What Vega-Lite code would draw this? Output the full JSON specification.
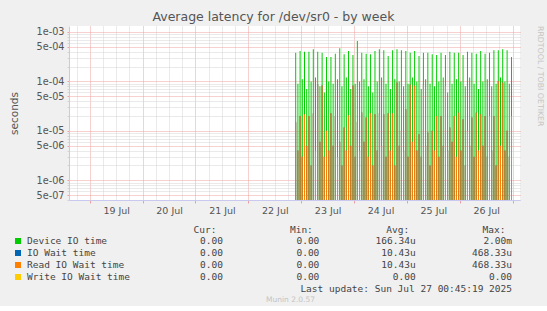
{
  "$schema": "https://vega.github.io/schema/vega-lite/v6.json",
  "background": "#f0f0f0",
  "padding": {"left": 9, "top": 10, "right": 4, "bottom": 3},
  "config": {"view": {"stroke": null}, "font": "DejaVu Sans"},
  "title": {"text": "Average latency for /dev/sr0 - by week", "font": "DejaVu Sans", "fontSize": 12.5, "fontWeight": "normal", "color": "#555555", "anchor": "middle", "offset": 3, "dx": -3},
  "spacing": 9,
  "vconcat": [
    {
      "width": 451,
      "height": 174,
      "view": {"fill": "white", "stroke": null},
      "title": {"text": "RRDTOOL / TOBI OETIKER", "orient": "right", "anchor": "start", "font": "DejaVu Sans", "fontSize": 7.8, "fontWeight": "normal", "color": "#c4c4c4", "offset": 16},
      "data": {"values": [
        {"t":"2025-07-22T21:30Z","dev":3.82e-4,"io":1.5e-5,"rd":1.5e-5},
        {"t":"2025-07-22T22:30Z","dev":9e-5,"io":4e-6,"rd":4e-6},
        {"t":"2025-07-22T23:30Z","dev":4.13e-4,"io":2.0e-5,"rd":2.0e-5},
        {"t":"2025-07-23T00:30Z","dev":1.1e-4,"io":3e-6,"rd":3e-6},
        {"t":"2025-07-23T01:30Z","dev":3.99e-4,"io":2.16e-5,"rd":2.16e-5},
        {"t":"2025-07-23T02:30Z","dev":7e-5,"io":5e-6,"rd":5e-6},
        {"t":"2025-07-23T03:30Z","dev":3.99e-4,"io":2.0e-5,"rd":2.0e-5},
        {"t":"2025-07-23T04:30Z","dev":1e-4,"io":2e-6,"rd":2e-6},
        {"t":"2025-07-23T05:30Z","dev":4.45e-4,"io":2.24e-5,"rd":2.24e-5},
        {"t":"2025-07-23T06:30Z","dev":1.2e-4,"io":4e-6,"rd":4e-6},
        {"t":"2025-07-23T07:30Z","dev":3.99e-4,"io":8.7e-5,"rd":8.7e-5},
        {"t":"2025-07-23T08:30Z","dev":8e-5,"io":6e-6,"rd":6e-6},
        {"t":"2025-07-23T09:30Z","dev":3.82e-4,"io":8.3e-5,"rd":8.3e-5},
        {"t":"2025-07-23T10:30Z","dev":6e-5,"io":3e-6,"rd":3e-6},
        {"t":"2025-07-23T11:30Z","dev":3.12e-4,"io":1.0e-5,"rd":1.0e-5},
        {"t":"2025-07-23T12:30Z","dev":1e-4,"io":4e-6,"rd":4e-6},
        {"t":"2025-07-23T13:30Z","dev":3.12e-4,"io":2.27e-5,"rd":2.27e-5},
        {"t":"2025-07-23T14:30Z","dev":9e-5,"io":5e-6,"rd":5e-6},
        {"t":"2025-07-23T15:30Z","dev":3.64e-4,"io":2.0e-5,"rd":2.0e-5},
        {"t":"2025-07-23T16:30Z","dev":1.1e-4,"io":3e-6,"rd":3e-6},
        {"t":"2025-07-23T17:30Z","dev":4.67e-4,"io":6e-6,"rd":6e-6},
        {"t":"2025-07-23T18:30Z","dev":8e-5,"io":2e-6,"rd":2e-6},
        {"t":"2025-07-23T19:30Z","dev":3.53e-4,"io":1.17e-5,"rd":1.17e-5},
        {"t":"2025-07-23T20:30Z","dev":1.2e-4,"io":4e-6,"rd":4e-6},
        {"t":"2025-07-23T21:30Z","dev":4.13e-4,"io":2.07e-5,"rd":2.07e-5},
        {"t":"2025-07-23T22:30Z","dev":7e-5,"io":5e-6,"rd":5e-6},
        {"t":"2025-07-23T23:30Z","dev":3.42e-4,"io":8.3e-5,"rd":8.3e-5},
        {"t":"2025-07-24T00:30Z","dev":9e-5,"io":3e-6,"rd":3e-6},
        {"t":"2025-07-24T01:30Z","dev":6.58e-4,"io":1.52e-5,"rd":1.52e-5},
        {"t":"2025-07-24T02:30Z","dev":1e-4,"io":4e-6,"rd":4e-6},
        {"t":"2025-07-24T03:30Z","dev":3.82e-4,"io":2.34e-5,"rd":2.34e-5},
        {"t":"2025-07-24T04:30Z","dev":1.1e-4,"io":6e-6,"rd":6e-6},
        {"t":"2025-07-24T05:30Z","dev":3.64e-4,"io":1.86e-5,"rd":1.86e-5},
        {"t":"2025-07-24T06:30Z","dev":8e-5,"io":3e-6,"rd":3e-6},
        {"t":"2025-07-24T07:30Z","dev":3.53e-4,"io":2.27e-5,"rd":2.27e-5},
        {"t":"2025-07-24T08:30Z","dev":6e-5,"io":2e-6,"rd":2e-6},
        {"t":"2025-07-24T09:30Z","dev":4.13e-4,"io":2.16e-5,"rd":2.16e-5},
        {"t":"2025-07-24T10:30Z","dev":1e-4,"io":4e-6,"rd":4e-6},
        {"t":"2025-07-24T11:30Z","dev":4.45e-4,"io":2.27e-5,"rd":2.27e-5},
        {"t":"2025-07-24T12:30Z","dev":1.2e-4,"io":5e-6,"rd":5e-6},
        {"t":"2025-07-24T13:30Z","dev":4.26e-4,"io":2.16e-5,"rd":2.16e-5},
        {"t":"2025-07-24T14:30Z","dev":9e-5,"io":3e-6,"rd":3e-6},
        {"t":"2025-07-24T15:30Z","dev":3.27e-4,"io":2.27e-5,"rd":2.27e-5},
        {"t":"2025-07-24T16:30Z","dev":7e-5,"io":4e-6,"rd":4e-6},
        {"t":"2025-07-24T17:30Z","dev":4.26e-4,"io":2.27e-5,"rd":2.27e-5},
        {"t":"2025-07-24T18:30Z","dev":1.1e-4,"io":2e-6,"rd":2e-6},
        {"t":"2025-07-24T19:30Z","dev":4.45e-4,"io":9.5e-5,"rd":9.5e-5},
        {"t":"2025-07-24T20:30Z","dev":1e-4,"io":5e-6,"rd":5e-6},
        {"t":"2025-07-24T21:30Z","dev":4.26e-4,"io":1.0e-5,"rd":1.0e-5},
        {"t":"2025-07-24T22:30Z","dev":8e-5,"io":4e-6,"rd":4e-6},
        {"t":"2025-07-24T23:30Z","dev":4.13e-4,"io":2.73e-5,"rd":2.73e-5},
        {"t":"2025-07-25T00:30Z","dev":9e-5,"io":3e-6,"rd":3e-6},
        {"t":"2025-07-25T01:30Z","dev":3.82e-4,"io":8.7e-5,"rd":8.7e-5},
        {"t":"2025-07-25T02:30Z","dev":1.2e-4,"io":6e-6,"rd":6e-6},
        {"t":"2025-07-25T03:30Z","dev":4.13e-4,"io":8.3e-5,"rd":8.3e-5},
        {"t":"2025-07-25T04:30Z","dev":1e-4,"io":4e-6,"rd":4e-6},
        {"t":"2025-07-25T05:30Z","dev":3.27e-4,"io":8.5e-6,"rd":8.5e-6},
        {"t":"2025-07-25T06:30Z","dev":7e-5,"io":3e-6,"rd":3e-6},
        {"t":"2025-07-25T07:30Z","dev":3.82e-4,"io":8.7e-5,"rd":8.7e-5},
        {"t":"2025-07-25T08:30Z","dev":1.1e-4,"io":5e-6,"rd":5e-6},
        {"t":"2025-07-25T09:30Z","dev":3.82e-4,"io":9.3e-6,"rd":9.3e-6},
        {"t":"2025-07-25T10:30Z","dev":9e-5,"io":2e-6,"rd":2e-6},
        {"t":"2025-07-25T11:30Z","dev":3.53e-4,"io":1.0e-5,"rd":1.0e-5},
        {"t":"2025-07-25T12:30Z","dev":8e-5,"io":4e-6,"rd":4e-6},
        {"t":"2025-07-25T13:30Z","dev":3.42e-4,"io":2.0e-5,"rd":2.0e-5},
        {"t":"2025-07-25T14:30Z","dev":1e-4,"io":3e-6,"rd":3e-6},
        {"t":"2025-07-25T15:30Z","dev":3.82e-4,"io":2.0e-5,"rd":2.0e-5},
        {"t":"2025-07-25T16:30Z","dev":1.2e-4,"io":5e-6,"rd":5e-6},
        {"t":"2025-07-25T17:30Z","dev":3.42e-4,"io":8.3e-5,"rd":8.3e-5},
        {"t":"2025-07-25T18:30Z","dev":6e-5,"io":4e-6,"rd":4e-6},
        {"t":"2025-07-25T19:30Z","dev":3.99e-4,"io":1.17e-5,"rd":1.17e-5},
        {"t":"2025-07-25T20:30Z","dev":9e-5,"io":6e-6,"rd":6e-6},
        {"t":"2025-07-25T21:30Z","dev":3.82e-4,"io":2.0e-5,"rd":2.0e-5},
        {"t":"2025-07-25T22:30Z","dev":1.1e-4,"io":3e-6,"rd":3e-6},
        {"t":"2025-07-25T23:30Z","dev":3.82e-4,"io":2.34e-5,"rd":2.34e-5},
        {"t":"2025-07-26T00:30Z","dev":1e-4,"io":4e-6,"rd":4e-6},
        {"t":"2025-07-26T01:30Z","dev":3.42e-4,"io":1.72e-5,"rd":1.72e-5},
        {"t":"2025-07-26T02:30Z","dev":8e-5,"io":2e-6,"rd":2e-6},
        {"t":"2025-07-26T03:30Z","dev":3.99e-4,"io":1.0e-5,"rd":1.0e-5},
        {"t":"2025-07-26T04:30Z","dev":1.2e-4,"io":5e-6,"rd":5e-6},
        {"t":"2025-07-26T05:30Z","dev":3.82e-4,"io":1.86e-5,"rd":1.86e-5},
        {"t":"2025-07-26T06:30Z","dev":9e-5,"io":3e-6,"rd":3e-6},
        {"t":"2025-07-26T07:30Z","dev":3.64e-4,"io":2.34e-5,"rd":2.34e-5},
        {"t":"2025-07-26T08:30Z","dev":7e-5,"io":4e-6,"rd":4e-6},
        {"t":"2025-07-26T09:30Z","dev":4.13e-4,"io":2.16e-5,"rd":2.16e-5},
        {"t":"2025-07-26T10:30Z","dev":1e-4,"io":5e-6,"rd":5e-6},
        {"t":"2025-07-26T11:30Z","dev":3.64e-4,"io":2.0e-5,"rd":2.0e-5},
        {"t":"2025-07-26T12:30Z","dev":1.1e-4,"io":3e-6,"rd":3e-6},
        {"t":"2025-07-26T13:30Z","dev":3.82e-4,"io":2.0e-5,"rd":2.0e-5},
        {"t":"2025-07-26T14:30Z","dev":8e-5,"io":4e-6,"rd":4e-6},
        {"t":"2025-07-26T15:30Z","dev":4.26e-4,"io":2.0e-5,"rd":2.0e-5},
        {"t":"2025-07-26T16:30Z","dev":9e-5,"io":2e-6,"rd":2e-6},
        {"t":"2025-07-26T17:30Z","dev":4.26e-4,"io":1.02e-4,"rd":1.02e-4},
        {"t":"2025-07-26T18:30Z","dev":1.2e-4,"io":5e-6,"rd":5e-6},
        {"t":"2025-07-26T19:30Z","dev":4.45e-4,"io":9.5e-5,"rd":9.5e-5},
        {"t":"2025-07-26T20:30Z","dev":1e-4,"io":4e-6,"rd":4e-6},
        {"t":"2025-07-26T21:30Z","dev":4.26e-4,"io":1.0e-5,"rd":1.0e-5},
        {"t":"2025-07-26T22:30Z","dev":9e-5,"io":3e-6,"rd":3e-6},
        {"t":"2025-07-26T23:30Z","dev":3.12e-4,"io":2.0e-5,"rd":2.0e-5}
      ]},
      "transform": [{"fold": ["dev", "io", "rd"], "as": ["k", "v"]}],
      "mark": {"type": "bar", "size": 1},
      "encoding": {
        "x": {
          "field": "t", "type": "temporal",
          "scale": {"domain": [1752857400000, 1753578300000]},
          "axis": {
            "title": null,
            "values": [1752861600000, 1752883200000, 1752904800000, 1752926400000, 1752948000000, 1752969600000, 1752991200000, 1753012800000, 1753034400000, 1753056000000, 1753077600000, 1753099200000, 1753120800000, 1753142400000, 1753164000000, 1753185600000, 1753207200000, 1753228800000, 1753250400000, 1753272000000, 1753293600000, 1753315200000, 1753336800000, 1753358400000, 1753380000000, 1753401600000, 1753423200000, 1753444800000, 1753466400000, 1753488000000, 1753509600000, 1753531200000, 1753552800000, 1753574400000],
            "labelExpr": "utchours(datum.value) == 12 ? utcFormat(datum.value, '%d %b') : ''",
            "labelOverlap": false,
            "labelFlush": false,
            "labelFont": "DejaVu Sans",
            "labelFontSize": 9.5,
            "labelColor": "#555555",
            "labelPadding": 2,
            "grid": true,
            "gridColor": {"condition": {"test": "utchours(datum.value) == 0", "value": "#eea0a0"}, "value": "#d4d4d4"},
            "gridDash": [1, 1],
            "tickSize": 3,
            "tickColor": {"condition": {"test": "utchours(datum.value) == 0", "value": "#eea0a0"}, "value": "transparent"},
            "domainColor": "#c8c8f0"
          }
        },
        "y": {
          "field": "v", "type": "quantitative",
          "stack": null,
          "scale": {"type": "log", "domain": [4e-7, 1.32e-3]},
          "axis": {
            "title": "seconds",
            "titleFont": "DejaVu Sans",
            "titleFontSize": 10.5,
            "titleFontWeight": "normal",
            "titleColor": "#555555",
            "titlePadding": 17,
            "values": [4e-7, 5e-7, 6e-7, 7e-7, 8e-7, 9e-7, 1e-6, 2e-6, 3e-6, 4e-6, 5e-6, 6e-6, 7e-6, 8e-6, 9e-6, 1e-5, 2e-5, 3e-5, 4e-5, 5e-5, 6e-5, 7e-5, 8e-5, 9e-5, 1e-4, 2e-4, 3e-4, 4e-4, 5e-4, 6e-4, 7e-4, 8e-4, 9e-4, 1e-3],
            "labelExpr": "(round(datum.value / pow(10, floor(log(datum.value) / LN10 + 1e-6))) == 1 || round(datum.value / pow(10, floor(log(datum.value) / LN10 + 1e-6))) == 5) ? replace(format(datum.value, '.0e'), 'e-', 'e-0') : ''",
            "labelOverlap": false,
            "labelFont": "DejaVu Sans",
            "labelFontSize": 9.7,
            "labelColor": "#555555",
            "labelPadding": 3,
            "grid": true,
            "gridColor": {"condition": {"test": "round(datum.value / pow(10, floor(log(datum.value) / LN10 + 1e-6))) == 1 || round(datum.value / pow(10, floor(log(datum.value) / LN10 + 1e-6))) == 5", "value": "#eea0a0"}, "value": "#d4d4d4"},
            "gridDash": [1, 1],
            "tickSize": 2,
            "tickColor": {"condition": {"test": "round(datum.value / pow(10, floor(log(datum.value) / LN10 + 1e-6))) == 1 || round(datum.value / pow(10, floor(log(datum.value) / LN10 + 1e-6))) == 5", "value": "#eea0a0"}, "value": "#d4d4d4"},
            "domainColor": "#c8c8f0"
          }
        },
        "color": {"field": "k", "type": "nominal", "scale": {"domain": ["dev", "io", "rd", "wr"], "range": ["#00cc00", "#0066b3", "#ff8000", "#ffcc00"]}, "legend": null}
      }
    },
    {
      "width": 443,
      "height": 48,
      "title": {"text": "Munin 2.0.57", "orient": "bottom", "anchor": "middle", "font": "DejaVu Sans", "fontSize": 7.5, "fontWeight": "normal", "color": "#c4c4c4", "offset": 2},
      "data": {"values": [
        {"k": "dev", "name": "Device IO time", "Cur": "0.00", "Min": "0.00", "Avg": "166.34u", "Max": "2.00m"},
        {"k": "io", "name": "IO Wait time", "Cur": "0.00", "Min": "0.00", "Avg": "10.43u", "Max": "468.33u"},
        {"k": "rd", "name": "Read IO Wait time", "Cur": "0.00", "Min": "0.00", "Avg": "10.43u", "Max": "468.33u"},
        {"k": "wr", "name": "Write IO Wait time", "Cur": "0.00", "Min": "0.00", "Avg": "0.00", "Max": "0.00"},
        {"k": "upd", "Max": "Last update: Sun Jul 27 00:45:19 2025"}
      ]},
      "resolve": {"scale": {"x": "independent"}, "axis": {"x": "independent"}},
      "layer": [
        {
          "layer": [
            {
              "transform": [{"filter": "datum.k != 'upd'"}],
              "mark": {"type": "square", "size": 36, "opacity": 1, "filled": true},
              "encoding": {
                "x": {"datum": "Name", "type": "nominal", "scale": {"type": "point", "domain": ["Name", "end"], "range": [-51, 0], "padding": 0}, "axis": null},
                "y": {"field": "k", "type": "nominal", "scale": {"type": "point", "domain": ["dev", "io", "rd", "wr", "upd"], "padding": 0}, "axis": null},
                "color": {"field": "k", "type": "nominal", "scale": {"domain": ["dev", "io", "rd", "wr"], "range": ["#00cc00", "#0066b3", "#ff8000", "#ffcc00"]}, "legend": null}
              }
            },
            {
              "transform": [{"filter": "datum.k != 'upd'"}],
              "mark": {"type": "text", "align": "left", "baseline": "middle", "dx": 9, "font": "DejaVu Sans Mono", "fontSize": 9.5, "color": "#444444"},
              "encoding": {
                "x": {"datum": "Name", "type": "nominal", "axis": null},
                "y": {"field": "k", "type": "nominal"},
                "text": {"field": "name"}
              }
            }
          ]
        },
        {
          "transform": [{"fold": ["Cur", "Min", "Avg", "Max"], "as": ["col", "val"]}, {"filter": "datum.val != null"}],
          "mark": {"type": "text", "align": "right", "baseline": "middle", "font": "DejaVu Sans Mono", "fontSize": 9.5, "color": "#444444"},
          "encoding": {
            "x": {"field": "col", "type": "nominal", "scale": {"type": "point", "domain": ["Cur", "Min", "Avg", "Max"], "range": [154, 443], "padding": 0},
              "axis": {"orient": "top", "title": null, "domain": false, "ticks": false, "labelExpr": "datum.value + ':'", "labelAlign": "right", "labelAngle": 0, "labelOffset": -7, "labelFont": "DejaVu Sans Mono", "labelFontSize": 9.5, "labelColor": "#444444", "labelPadding": 7}},
            "y": {"field": "k", "type": "nominal"},
            "text": {"field": "val"}
          }
        }
      ]
    }
  ]
}
